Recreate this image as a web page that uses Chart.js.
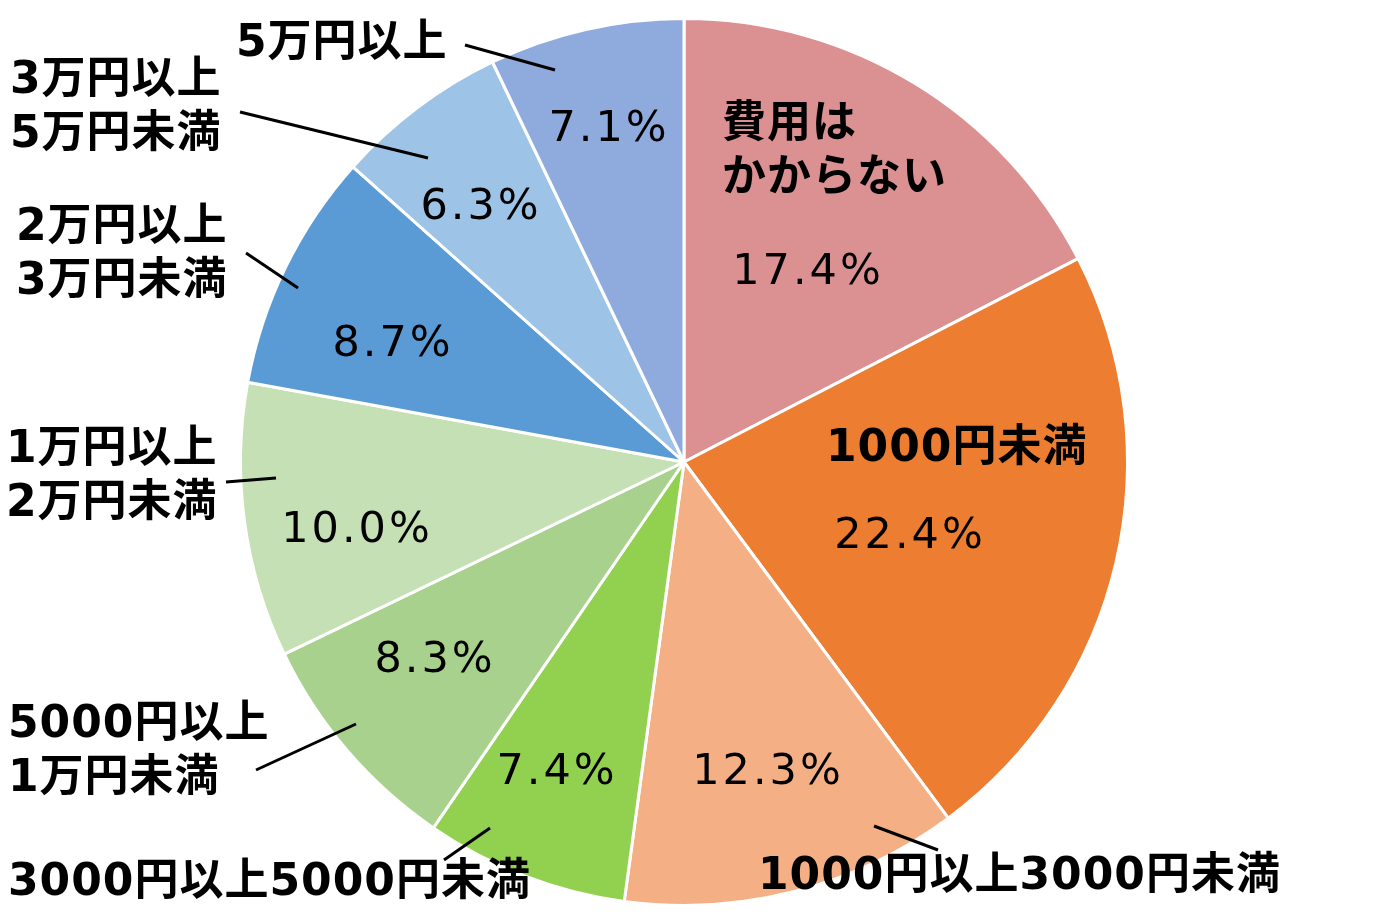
<!DOCTYPE html>
<html><head><meta charset="utf-8">
<script src="https://cdn.jsdelivr.net/npm/chart.js@4/dist/chart.umd.min.js"></script>
<style>html,body{margin:0;background:#fff}#wrap{width:1380px;height:920px}</style>
</head><body><div id="wrap"><canvas id="c" width="1380" height="920"></canvas></div>
<script>
const categories = ["費用は\nかからない", "1000円未満", "1000円以上3000円未満", "3000円以上5000円未満",
  "5000円以上\n1万円未満", "1万円以上\n2万円未満", "2万円以上\n3万円未満", "3万円以上\n5万円未満", "5万円以上"];
const values = [17.4, 22.4, 12.3, 7.4, 8.3, 10.0, 8.7, 6.3, 7.1];
const colors = ["#DB9192", "#ED7D31", "#F4B084", "#92D050", "#A9D18E", "#C5E0B4", "#5B9BD5", "#9DC3E6", "#8FAADC"];

// layout for text (not data)
const pctPos = [[808,273],[910,537],[768,773],[557,773],[435,661],[357,531],[393,345],[481,208],[609,130]];
const catPos = [[722,126],[826,450],[758,878],[8,884],[8,726],[6,451],[16,229],[10,82],[236,45]];
const leaders = [null,null,[[874,826],[938,850]],[[490,828],[444,860]],[[356,724],[256,770]],[[276,478],[226,482]],[[246,253],[298,288]],[[240,112],[428,158]],[[465,45],[555,70]]];

const labelPlugin = {
  id: "labels",
  afterDatasetsDraw(chart) {
    const ctx = chart.ctx;
    ctx.save();
    ctx.fillStyle = "#000";
    ctx.textBaseline = "middle";
    ctx.font = "43px 'DejaVu Sans', sans-serif";
    ctx.letterSpacing = "3px";
    ctx.textAlign = "center";
    values.forEach((v, i) => ctx.fillText(v.toFixed(1) + "%", pctPos[i][0], pctPos[i][1]));
    ctx.font = "bold 44px 'DejaVu Sans', 'Noto Sans CJK JP', sans-serif";
    ctx.letterSpacing = "1px";
    ctx.textAlign = "left";
    categories.forEach((c, i) => {
      c.split("\n").forEach((line, j) => ctx.fillText(line, catPos[i][0], catPos[i][1] + j * 54));
    });
    ctx.strokeStyle = "#000";
    ctx.lineWidth = 3;
    leaders.forEach(l => {
      if (!l) return;
      ctx.beginPath(); ctx.moveTo(l[0][0], l[0][1]); ctx.lineTo(l[1][0], l[1][1]); ctx.stroke();
    });
    ctx.restore();
  }
};

new Chart(document.getElementById("c"), {
  type: "pie",
  data: { labels: categories, datasets: [{ data: values, backgroundColor: colors, borderColor: "#fff", borderWidth: 3 }] },
  options: {
    responsive: false, animation: false,
    layout: { padding: { top: 17, bottom: 13, left: 0, right: 12 } },
    plugins: { legend: { display: false }, tooltip: { enabled: false } }
  },
  plugins: [labelPlugin]
});
</script></body></html>
